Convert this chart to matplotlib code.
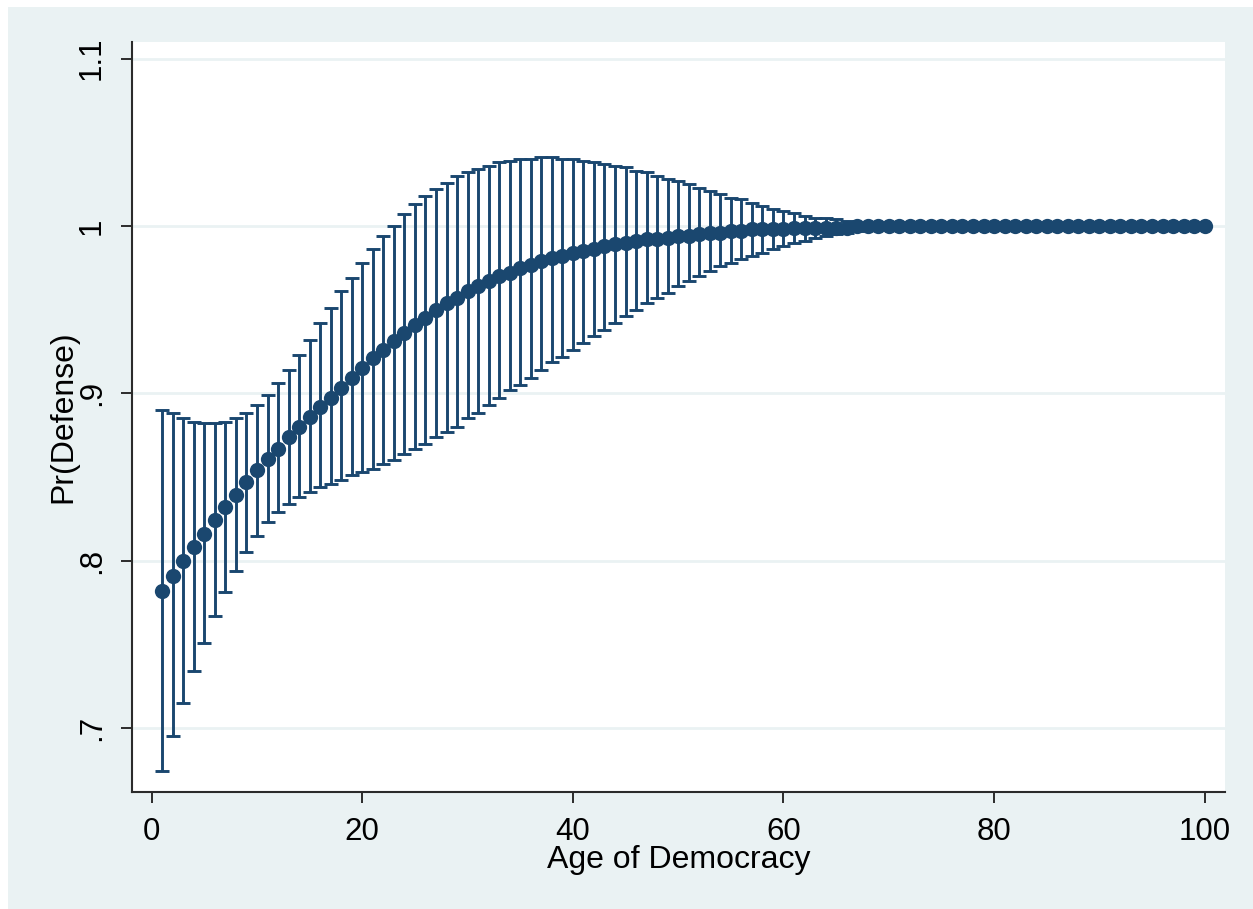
import matplotlib
matplotlib.use("Agg")
import matplotlib.pyplot as plt
from matplotlib.patches import Rectangle

plt.rcParams['font.family'] = ['Liberation Sans', 'DejaVu Sans']

age = list(range(1, 101))

estimate = [
    0.782, 0.791, 0.800, 0.808, 0.816, 0.824, 0.832, 0.839, 0.847, 0.854,
    0.861, 0.867, 0.874, 0.880, 0.886, 0.892, 0.897, 0.903, 0.909, 0.915,
    0.921, 0.926, 0.931, 0.936, 0.941, 0.945, 0.950, 0.954, 0.957, 0.961,
    0.964, 0.967, 0.970, 0.972, 0.975, 0.977, 0.979, 0.981, 0.982, 0.984,
    0.985, 0.986, 0.988, 0.989, 0.990, 0.991, 0.992, 0.992, 0.993, 0.994,
    0.994, 0.995, 0.996, 0.996, 0.997, 0.997, 0.998, 0.998, 0.998, 0.998,
    0.999, 0.999, 0.999, 0.999, 0.999, 0.999, 1.000, 1.000, 1.000, 1.000,
    1.000, 1.000, 1.000, 1.000, 1.000, 1.000, 1.000, 1.000, 1.000, 1.000,
    1.000, 1.000, 1.000, 1.000, 1.000, 1.000, 1.000, 1.000, 1.000, 1.000,
    1.000, 1.000, 1.000, 1.000, 1.000, 1.000, 1.000, 1.000, 1.000, 1.000,
]

upper = [
    0.890, 0.888, 0.885, 0.883, 0.882, 0.882, 0.883, 0.885, 0.888, 0.893,
    0.899, 0.906, 0.914, 0.923, 0.932, 0.942, 0.951, 0.961, 0.969, 0.978,
    0.986, 0.994, 1.000, 1.007, 1.013, 1.018, 1.022, 1.026, 1.030, 1.032,
    1.034, 1.036, 1.038, 1.039, 1.040, 1.040, 1.041, 1.041, 1.040, 1.040,
    1.039, 1.038, 1.037, 1.036, 1.035, 1.033, 1.032, 1.030, 1.028, 1.027,
    1.025, 1.023, 1.021, 1.019, 1.017, 1.016, 1.014, 1.012, 1.010, 1.009,
    1.008, 1.006, 1.005, 1.005, 1.004, 1.003, 1.002, 1.002, 1.001, 1.001,
    1.000, 1.000, 1.000, 1.000, 1.000, 1.000, 1.000, 1.000, 1.000, 1.000,
    1.000, 1.000, 1.000, 1.000, 1.000, 1.000, 1.000, 1.000, 1.000, 1.000,
    1.000, 1.000, 1.000, 1.000, 1.000, 1.000, 1.000, 1.000, 1.000, 1.000,
]

lower = [
    0.674, 0.695, 0.715, 0.734, 0.751, 0.767, 0.781, 0.794, 0.805, 0.815,
    0.823, 0.829, 0.834, 0.838, 0.841, 0.844, 0.846, 0.848, 0.851, 0.853,
    0.855, 0.858, 0.860, 0.864, 0.867, 0.870, 0.874, 0.877, 0.880, 0.885,
    0.888, 0.893, 0.897, 0.902, 0.905, 0.909, 0.914, 0.919, 0.922, 0.926,
    0.930, 0.934, 0.938, 0.942, 0.946, 0.950, 0.954, 0.957, 0.960, 0.964,
    0.967, 0.970, 0.973, 0.976, 0.978, 0.980, 0.982, 0.984, 0.986, 0.988,
    0.990, 0.991, 0.993, 0.994, 0.995, 0.996, 0.997, 0.998, 0.998, 0.999,
    0.999, 0.999, 0.999, 0.999, 0.999, 0.999, 0.999, 0.999, 0.999, 0.999,
    1.000, 1.000, 1.000, 1.000, 1.000, 1.000, 1.000, 1.000, 1.000, 1.000,
    1.000, 1.000, 1.000, 1.000, 1.000, 1.000, 1.000, 1.000, 1.000, 1.000,
]

x_ticks = [0, 20, 40, 60, 80, 100]
y_ticks = [0.7, 0.8, 0.9, 1.0, 1.1]
y_tick_labels = [".7", ".8", ".9", "1", "1.1"]

navy = "#1A476F"
bg = "#EAF2F3"
axis_col = "#2B2B2B"

W, H = 1253, 909
fig = plt.figure(figsize=(W / 100, H / 100), dpi=100)
fig.patch.set_facecolor("white")
bg_rect = Rectangle((8 / W, -0.02), 1.05 - 8 / W, (H - 7) / H + 0.02,
                    transform=fig.transFigure, facecolor=bg,
                    edgecolor="none", zorder=-10)
fig.patches.append(bg_rect)

ax = fig.add_axes([132 / W, (H - 792) / H, (1225 - 132) / W, (792 - 42) / H])
ax.set_zorder(5)
ax.set_facecolor("white")

err_low = [e - l for e, l in zip(estimate, lower)]
err_high = [u - e for e, u in zip(estimate, upper)]
ax.errorbar(age, estimate, yerr=[err_low, err_high], fmt="none",
            ecolor=navy, elinewidth=2.1, capsize=4.8, capthick=2.1,
            zorder=2)
ax.plot(age, estimate, linestyle="none", marker="o", color=navy,
        markersize=11, markeredgewidth=0, zorder=3)

ax.set_xlim(-1.87, 101.93)
ax.set_ylim(0.6617, 1.1100)
ax.set_xticks(x_ticks)
ax.set_xticklabels([str(t) for t in x_ticks])
ax.set_yticks(y_ticks)
ax.set_yticklabels(y_tick_labels, rotation=90, va="center")

ax.yaxis.grid(True, color=bg, linewidth=2.0, zorder=0)
ax.set_axisbelow(True)

for side in ["top", "right"]:
    ax.spines[side].set_visible(False)
for side in ["left", "bottom"]:
    ax.spines[side].set_color(axis_col)
    ax.spines[side].set_linewidth(1.5)

ax.tick_params(axis="both", colors=axis_col, length=8, width=1.4,
               labelsize=22.5, labelcolor="black")
ax.tick_params(axis="x", pad=10)
ax.tick_params(axis="y", pad=10)

ax.set_xlabel("Age of Democracy", fontsize=23, color="black")
ax.xaxis.set_label_coords(0.5, -(845 - 792) / 750)
ax.xaxis.label.set_va("top")
ax.set_ylabel("Pr(Defense)", fontsize=23, color="black")
ax.yaxis.set_label_coords((63 - 132) / 1093, 0.5)
ax.yaxis.label.set_va("center")

fig.savefig("out.png", dpi=100, facecolor=fig.get_facecolor())
